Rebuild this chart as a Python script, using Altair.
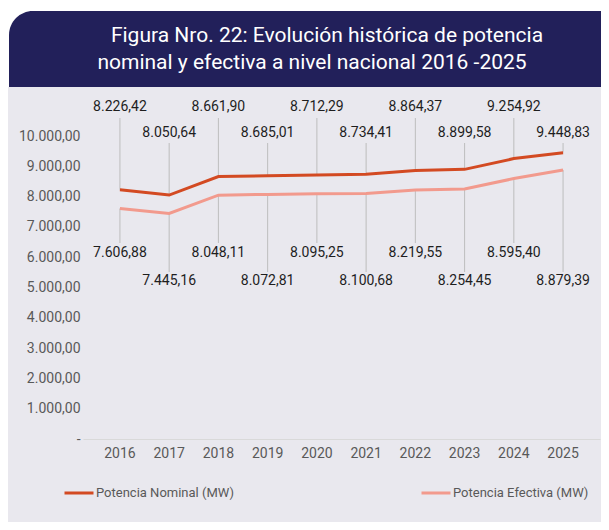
import altair as alt
import pandas as pd

# ---- data ----
years = ["2016", "2017", "2018", "2019", "2020", "2021", "2022", "2023", "2024", "2025"]
nominal = [8226.42, 8050.64, 8661.90, 8685.01, 8712.29, 8734.41, 8864.37, 8899.58, 9254.92, 9448.83]
efectiva = [7606.88, 7445.16, 8048.11, 8072.81, 8095.25, 8100.68, 8219.55, 8254.45, 8595.40, 8879.39]
series_names = ["Potencia Nominal (MW)", "Potencia Efectiva (MW)"]
y_ticks = [0, 1000, 2000, 3000, 4000, 5000, 6000, 7000, 8000, 9000, 10000]
title_lines = [
    "Figura Nro. 22: Evolución histórica de potencia",
    "nominal y efectiva a nivel nacional 2016 -2025",
]

df = pd.DataFrame({
    "year": years * 2,
    "serie": [series_names[0]] * len(years) + [series_names[1]] * len(years),
    "value": nominal + efectiva,
    "idx": list(range(len(years))) * 2,
})

FONT = "Roboto, sans-serif"
NAVY = "#22205A"
BG = "#E9E8EE"
C_NOM = "#D34A22"
C_EFE = "#F29A8D"
GRAY_TXT = "#595959"
LEADER = "#BDBDBD"

one = pd.DataFrame({"a": [0]})

x_enc = alt.X(
    "year:O",
    scale=alt.Scale(padding=0.5),
    axis=alt.Axis(title=None, labelAngle=0, ticks=False, domainColor="#D9D9D9",
                  labelColor=GRAY_TXT, labelFontSize=14, labelPadding=7, labelFont=FONT,
                  zindex=2),
)
y_enc = alt.Y(
    "value:Q",
    scale=alt.Scale(domain=[0, 10000], nice=False),
    axis=alt.Axis(title=None, values=y_ticks, format=",.2f",
                  labelExpr="datum.value == 0 ? '-' : datum.label",
                  domain=False, ticks=False, grid=False, labelColor=GRAY_TXT,
                  labelFontSize=14, labelPadding=3, labelFont=FONT, zindex=2),
)

# ---- decorative background / title box ----
bg_rect = alt.Chart(one).mark_rect(color=BG).encode(
    x=alt.value(-75), x2=alt.value(518), y=alt.value(-49), y2=alt.value(386)
)
title_rect = alt.Chart(one).mark_rect(color=NAVY, cornerRadiusTopLeft=24).encode(
    x=alt.value(-74), x2=alt.value(518), y=alt.value(-125), y2=alt.value(-49)
)
title1 = alt.Chart(one).mark_text(font=FONT, fontSize=21, color="white",
                                  align="center", baseline="middle").encode(
    x=alt.value(244), y=alt.value(-100), text=alt.value(title_lines[0])
)
title2 = alt.Chart(one).mark_text(font=FONT, fontSize=21, color="white",
                                  align="center", baseline="middle").encode(
    x=alt.value(229), y=alt.value(-73), text=alt.value(title_lines[1])
)

base = alt.Chart(df)
nom = base.transform_filter(alt.datum.serie == series_names[0])
efe = base.transform_filter(alt.datum.serie == series_names[1])
even = "datum.idx % 2 == 0"
odd = "datum.idx % 2 == 1"

rule_kw = dict(color=LEADER, strokeWidth=1)
r_nom_a = nom.transform_filter(even).mark_rule(**rule_kw).encode(x=x_enc, y=y_enc, y2=alt.value(-18))
r_nom_b = nom.transform_filter(odd).mark_rule(**rule_kw).encode(x=x_enc, y=y_enc, y2=alt.value(7))
r_efe_a = efe.transform_filter(even).mark_rule(**rule_kw).encode(x=x_enc, y=y_enc, y2=alt.value(107))
r_efe_b = efe.transform_filter(odd).mark_rule(**rule_kw).encode(x=x_enc, y=y_enc, y2=alt.value(136))

lines = base.mark_line(strokeWidth=3).encode(
    x=x_enc,
    y=y_enc,
    color=alt.Color(
        "serie:N",
        scale=alt.Scale(domain=series_names, range=[C_NOM, C_EFE]),
        legend=alt.Legend(title=None, orient="none", legendX=-20, legendY=341,
                          direction="horizontal", symbolType="stroke",
                          symbolStrokeWidth=3, symbolSize=841, labelFontSize=13,
                          labelColor=GRAY_TXT, labelFont=FONT, columnPadding=181,
                          labelOffset=1),
    ),
)

txt_kw = dict(font=FONT, fontSize=14, color="#1E1E1E", align="center", baseline="middle")
lab = alt.Text("value:Q", format=",.2f")
t_nom_a = nom.transform_filter(even).mark_text(**txt_kw).encode(x=x_enc, y=alt.value(-29), text=lab)
t_nom_b = nom.transform_filter(odd).mark_text(**txt_kw).encode(x=x_enc, y=alt.value(-3), text=lab)
t_efe_a = efe.transform_filter(even).mark_text(**txt_kw).encode(x=x_enc, y=alt.value(117), text=lab)
t_efe_b = efe.transform_filter(odd).mark_text(**txt_kw).encode(x=x_enc, y=alt.value(145), text=lab)

chart = alt.layer(
    bg_rect, title_rect, title1, title2,
    r_nom_a, r_nom_b, r_efe_a, r_efe_b,
    lines,
    t_nom_a, t_nom_b, t_efe_a, t_efe_b,
).properties(
    width=517, height=303,
    autosize=alt.AutoSizeParams(type="none"),
    padding={"left": 75, "top": 128, "right": 1, "bottom": 83},
).configure(background="white").configure_view(stroke=None)

chart.save("out.html", embed_options={
    "renderer": "svg", "actions": False,
    "formatLocale": {"decimal": ",", "thousands": ".", "grouping": [3], "currency": ["", ""]},
})
